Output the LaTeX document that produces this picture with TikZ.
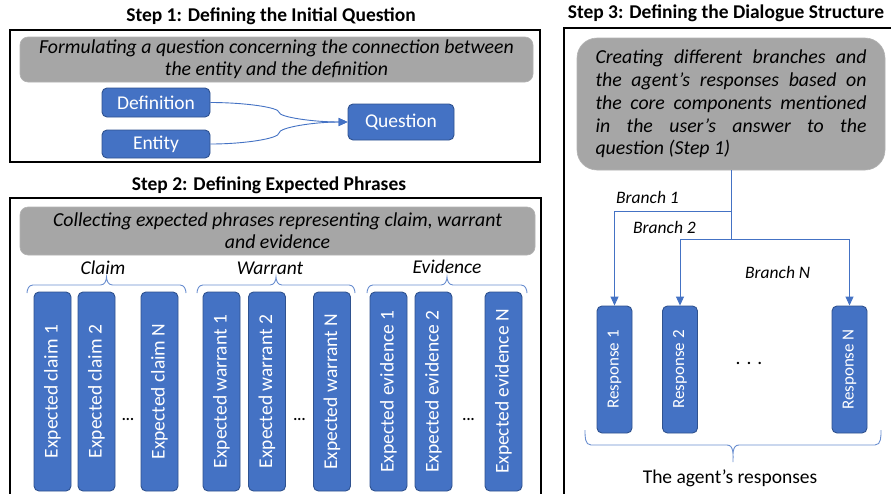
\documentclass[tikz,border=0pt]{standalone}
\usepackage{fontspec}
\setmainfont{Carlito}
\usetikzlibrary{arrows.meta,calc}

\definecolor{boxblue}{HTML}{4472C4}
\definecolor{boxedge}{HTML}{2F528F}
\definecolor{panelgray}{HTML}{A6A6A6}
\definecolor{linkblue}{HTML}{4472C4}

\newcommand{\fs}[2]{\fontsize{#1}{#2}\selectfont}
% curly brace: x1, x2, x-cusp, y-ends, y-line, y-cusp, end angle, cusp angle
\newcommand{\curlybrace}[8]{%
  \draw[bracestyle] (#1,#4) to[out=#7,in=180] (#1+6,#5) -- (#3-6,#5)
    to[out=0,in=#8] (#3,#6) to[out=#8,in=180] (#3+6,#5) -- (#2-6,#5)
    to[out=0,in=#7] (#2,#4);}

\tikzset{
  bluebox/.style={draw=boxedge, fill=boxblue, line width=0.9pt, rounded corners=5pt,
    text=white, inner sep=0pt},
  stepbox/.style={bluebox, font=\fs{19.5}{22}},
  colbox/.style={bluebox, rotate=90, minimum width=199pt, minimum height=37pt,
    font=\fs{19.5}{22}},
  respbox/.style={bluebox, rotate=90, minimum width=127pt, minimum height=35pt,
    font=\fs{17}{20}},
  graybox/.style={fill=panelgray, draw=panelgray!85!white, line width=0.6pt,
    rounded corners=8pt, inner sep=0pt},
  frame/.style={draw=black, line width=1.3pt},
  link/.style={draw=linkblue, line width=0.9pt},
  arrowlink/.style={link, -{Triangle[length=9pt,width=8pt]}},
  bracestyle/.style={draw=linkblue!80!white, line width=0.9pt},
  titletext/.style={font=\fs{19.5}{22}\bfseries, anchor=base, inner sep=0pt},
  grouplabel/.style={font=\fs{19.5}{22}\itshape, anchor=base, inner sep=0pt},
  branchlabel/.style={font=\fs{17.5}{20}\itshape, anchor=base west, inner sep=0pt},
  dotsmark/.style={font=\fs{15}{16}\bfseries, inner sep=0pt},
}

\begin{document}
\begin{tikzpicture}[x=1pt,y=-1pt]
\useasboundingbox (0,0) rectangle (891,493);
\clip (0,0) rectangle (891,493);
\fill[white] (0,0) rectangle (891,493);

% ---------------- Step 1 ----------------
\node[titletext] (t1) at (271,21) {Step 1: Defining the Initial Question};
\draw[frame] (10,30) rectangle (540,162);
\node[graybox, minimum width=513pt, minimum height=45pt, align=center,
      font=\fs{19.8}{22}\itshape] (g1) at (276.5,59.5)
  {Formulating a question concerning the connection between\\the entity and the definition};

\node[stepbox, minimum width=108pt, minimum height=29pt] (def) at (156,102.5) {Definition};
\node[stepbox, minimum width=108pt, minimum height=28pt] (ent) at (156,144) {Entity};
\node[stepbox, minimum width=106pt, minimum height=36pt] (q) at (401,122) {Question};

% curved connectors (two-segment S curves)
\coordinate (dq1) at ($(def.east)!.25!(q.west)$);
\coordinate (dqm) at ($(def.east)!.5!(q.west)$);
\coordinate (dq3) at ($(def.east)!.75!(q.west)$);
\coordinate (eq1) at ($(ent.east)!.25!(q.west)$);
\coordinate (eqm) at ($(ent.east)!.5!(q.west)$);
\coordinate (eq3) at ($(ent.east)!.75!(q.west)$);
\draw[arrowlink] (def.east) .. controls (dq1 |- def.east) and (dq1 -| dqm) .. (dqm)
  .. controls (dq3 -| dqm) and (dq3 |- q.west) .. (q.west);
\draw[arrowlink] (ent.east) .. controls (eq1 |- ent.east) and (eq1 -| eqm) .. (eqm)
  .. controls (eq3 -| eqm) and (eq3 |- q.west) .. (q.west);

% ---------------- Step 2 ----------------
\node[titletext] (t2) at (269,190) {Step 2: Defining Expected Phrases};
\draw[frame] (10,198) rectangle (541,520);
\node[graybox, minimum width=515pt, minimum height=48pt, align=center,
      font=\fs{19.8}{22}\itshape] (g2) at (277.5,231)
  {Collecting expected phrases representing claim, warrant\\and evidence};

\node[grouplabel] (lclaim) at (103,274) {Claim};
\node[grouplabel] (lwarrant) at (270,274) {Warrant};
\node[grouplabel] (levidence) at (447,273) {Evidence};

\curlybrace{27}{186}{106.5}{293}{285}{277}{90}{-90}
\curlybrace{197}{355}{276}{293}{285}{277}{90}{-90}
\curlybrace{367}{527}{447}{293}{285}{277}{90}{-90}

\node[colbox] (c1) at (52.5,391.5) {Expected claim 1};
\node[colbox] (c2) at (96.5,391.5) {Expected claim 2};
\node[dotsmark] (cd) at (128,419) {...};
\node[colbox] (cn) at (159.5,391.5) {Expected claim N};

\node[colbox] (w1) at (221.5,391.5) {Expected warrant 1};
\node[colbox] (w2) at (267,391.5) {Expected warrant 2};
\node[dotsmark] (wd) at (299.5,419) {...};
\node[colbox] (wn) at (332,391.5) {Expected warrant N};

\node[colbox] (e1) at (388.5,391.5) {Expected evidence 1};
\node[colbox] (e2) at (433.5,391.5) {Expected evidence 2};
\node[dotsmark] (ed) at (468.5,419) {...};
\node[colbox] (en) at (503.5,391.5) {Expected evidence N};

% ---------------- Step 3 ----------------
\node[titletext] (t3) at (726,18) {Step 3: Defining the Dialogue Structure};
\draw[frame] (564,28) rectangle (900,520);
\node[graybox, rounded corners=20pt, minimum width=308pt, minimum height=132pt,
      align=center, font=\fs{19.8}{22.75}\itshape] (g3) at (731,104)
  {\makebox[271pt][s]{Creating different branches and}\\
   \makebox[271pt][s]{the agent’s responses based on}\\
   \makebox[271pt][s]{the core components mentioned}\\
   \makebox[271pt][s]{in the user’s answer to the}\\
   \makebox[271pt][l]{question (Step 1)}};

% rotated boxes: their east anchor is the top edge
\node[respbox] (r1) at (614.5,369.5) {Response 1};
\node[respbox] (r2) at (680,369.5) {Response 2};
\node[respbox] (rn) at (849.5,369.5) {Response N};
\node[inner sep=0pt, font=\fs{19.5}{22}] (rd) at (749,363) {.\hspace{6pt}.\hspace{6pt}.};

\coordinate (j1) at (731,211);
\coordinate (j2) at (731,239);
\draw[link] (g3.south) -- (j2);
\draw[arrowlink] (j1) -| (r1.east);
\draw[arrowlink] (j2) -| (r2.east);
\draw[arrowlink] (j2) -| (rn.east);

\node[branchlabel] (b1) at (616,203) {Branch 1};
\node[branchlabel] (b2) at (633,233) {Branch 2};
\node[branchlabel] (bn) at (745,278) {Branch N};

\curlybrace{585}{881}{733}{430}{445}{462}{-90}{90}
\node[font=\fs{19.5}{22}, anchor=base, inner sep=0pt] (agent) at (730,483) {The agent’s responses};
\end{tikzpicture}
\end{document}
